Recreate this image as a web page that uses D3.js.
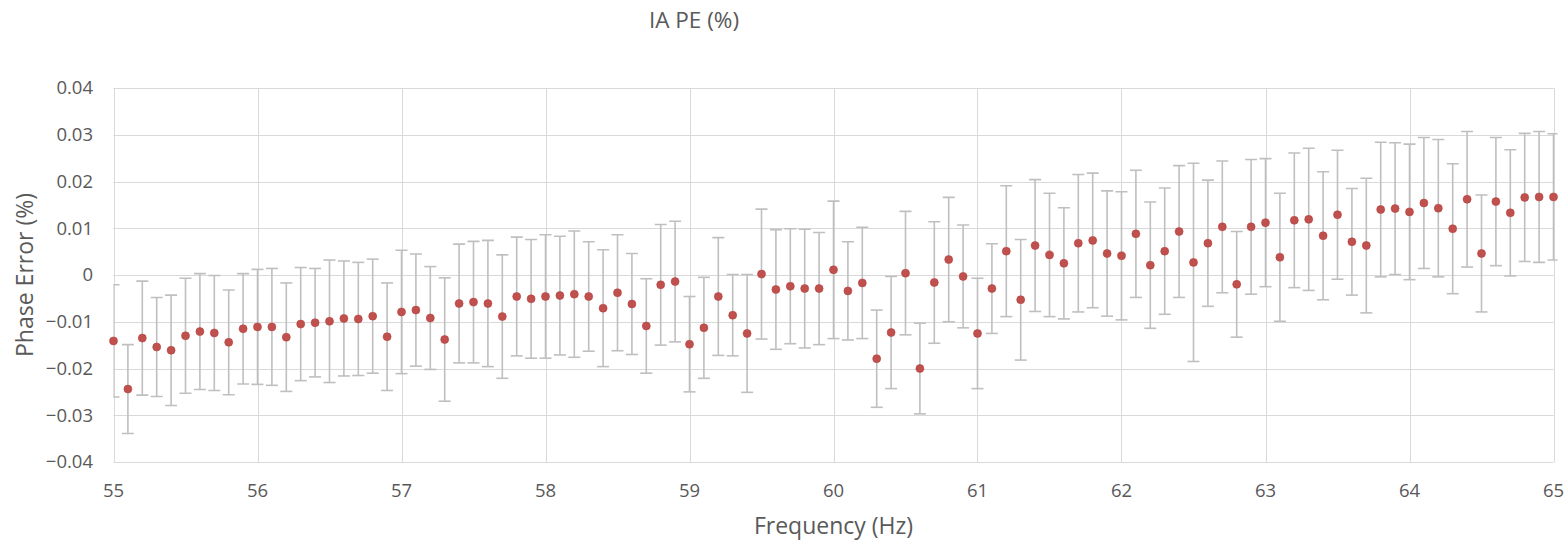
<!DOCTYPE html>
<html>
<head>
<meta charset="utf-8">
<script src="https://cdn.jsdelivr.net/npm/d3@7"></script>
<style>
  body { margin: 0; background: #fff; }
  svg { display: block; font-family: "Open Sans", sans-serif; }
  .grid line { stroke: #d9d9d9; stroke-width: 1; }
  .tick-label { fill: #595959; font-size: 18.5px; }
  .axis-title { fill: #595959; font-size: 23px; }
  .chart-title { fill: #595959; font-size: 22.5px; }
</style>
</head>
<body>
<div id="chart"></div>
<script>
// frequency steps (Hz)
var freq = [55.0,55.1,55.2,55.3,55.4,55.5,55.6,55.7,55.8,55.9,
  56.0,56.1,56.2,56.3,56.4,56.5,56.6,56.7,56.8,56.9,
  57.0,57.1,57.2,57.3,57.4,57.5,57.6,57.7,57.8,57.9,
  58.0,58.1,58.2,58.3,58.4,58.5,58.6,58.7,58.8,58.9,
  59.0,59.1,59.2,59.3,59.4,59.5,59.6,59.7,59.8,59.9,
  60.0,60.1,60.2,60.3,60.4,60.5,60.6,60.7,60.8,60.9,
  61.0,61.1,61.2,61.3,61.4,61.5,61.6,61.7,61.8,61.9,
  62.0,62.1,62.2,62.3,62.4,62.5,62.6,62.7,62.8,62.9,
  63.0,63.1,63.2,63.3,63.4,63.5,63.6,63.7,63.8,63.9,
  64.0,64.1,64.2,64.3,64.4,64.5,64.6,64.7,64.8,64.9,
  65.0];

// mean phase error (%)
var phaseErr = [-0.0141,-0.0244,-0.0135,-0.0154,-0.0161,-0.0130,-0.0121,-0.0124,-0.0144,-0.0115,
  -0.0111,-0.0111,-0.0133,-0.0105,-0.0102,-0.0099,-0.0093,-0.0094,-0.0088,-0.0132,
  -0.0079,-0.0075,-0.0092,-0.0138,-0.0061,-0.0058,-0.0061,-0.0089,-0.0046,-0.0051,
  -0.0046,-0.0044,-0.0041,-0.0046,-0.0071,-0.0038,-0.0062,-0.0109,-0.0021,-0.0014,
  -0.0148,-0.0113,-0.0046,-0.0086,-0.0125,0.0002,-0.0031,-0.0024,-0.0029,-0.0029,
  0.0011,-0.0034,-0.0017,-0.0179,-0.0123,0.0004,-0.0200,-0.0016,0.0033,-0.0003,
  -0.0125,-0.0029,0.0051,-0.0053,0.0063,0.0043,0.0025,0.0068,0.0074,0.0046,
  0.0041,0.0088,0.0021,0.0051,0.0093,0.0027,0.0068,0.0103,-0.0020,0.0103,
  0.0112,0.0038,0.0117,0.0119,0.0084,0.0129,0.0071,0.0063,0.0140,0.0142,
  0.0135,0.0154,0.0143,0.0099,0.0162,0.0046,0.0157,0.0133,0.0166,0.0167,
  0.0167];

// error bar half-width (%)
var errBar = [0.0120,0.0095,0.0122,0.0106,0.0118,0.0123,0.0124,0.0123,0.0112,0.0118,
  0.0123,0.0125,0.0116,0.0121,0.0116,0.0131,0.0123,0.0121,0.0122,0.0115,
  0.0132,0.0120,0.0110,0.0132,0.0127,0.0130,0.0135,0.0132,0.0127,0.0127,
  0.0132,0.0127,0.0135,0.0117,0.0125,0.0124,0.0108,0.0101,0.0129,0.0129,
  0.0102,0.0108,0.0126,0.0087,0.0126,0.0139,0.0128,0.0123,0.0127,0.0120,
  0.0147,0.0105,0.0119,0.0104,0.0120,0.0132,0.0097,0.0130,0.0133,0.0110,
  0.0118,0.0096,0.0140,0.0129,0.0141,0.0132,0.0119,0.0147,0.0144,0.0134,
  0.0137,0.0136,0.0135,0.0135,0.0141,0.0212,0.0135,0.0141,0.0113,0.0144,
  0.0137,0.0137,0.0144,0.0152,0.0137,0.0138,0.0114,0.0144,0.0144,0.0141,
  0.0145,0.0140,0.0147,0.0139,0.0145,0.0125,0.0137,0.0135,0.0137,0.0140,
  0.0135];

var xTicks = [55,56,57,58,59,60,61,62,63,64,65];
var yTicks = [-0.04,-0.03,-0.02,-0.01,0,0.01,0.02,0.03,0.04];

function drawChart(){
  var W = 1568, H = 543;
  var pLeft = 113.5, pRight = 1553.5, pTop = 88, pBottom = 462;

  var svg = d3.select('#chart').append('svg')
    .attr('width', W)
    .attr('height', H);

  var x = d3.scaleLinear().domain([55, 65]).range([pLeft, pRight]);
  var y = d3.scaleLinear().domain([-0.04, 0.04]).range([pBottom, pTop]);

  // grid
  var grid = svg.append('g').attr('class', 'grid');
  grid.selectAll('.hl').data(yTicks).enter().append('line')
    .attr('x1', pLeft).attr('x2', pRight)
    .attr('y1', function(d){ return Math.round(y(d)) + 0.5; })
    .attr('y2', function(d){ return Math.round(y(d)) + 0.5; });
  grid.selectAll('.vl').data(xTicks).enter().append('line')
    .attr('y1', pTop).attr('y2', pBottom + 0.5)
    .attr('x1', function(d){ return Math.round(x(d)) + 0.5; })
    .attr('x2', function(d){ return Math.round(x(d)) + 0.5; });

  // tick labels
  svg.append('g').selectAll('text').data(yTicks).enter().append('text')
    .attr('class', 'tick-label')
    .attr('x', 93)
    .attr('y', function(d){ return y(d); })
    .attr('dy', '0.35em')
    .attr('text-anchor', 'end')
    .text(function(d){ return d === 0 ? '0' : d3.format('.2f')(d); });

  svg.append('g').selectAll('text').data(xTicks).enter().append('text')
    .attr('class', 'tick-label')
    .attr('x', function(d){ return x(d); })
    .attr('y', 497)
    .attr('text-anchor', 'middle')
    .text(function(d){ return d; });

  // titles
  svg.append('text').attr('class', 'chart-title')
    .attr('x', 694).attr('y', 28)
    .attr('text-anchor', 'middle')
    .text('IA PE (%)');

  svg.append('text').attr('class', 'axis-title')
    .attr('x', (pLeft + pRight) / 2).attr('y', 534)
    .attr('text-anchor', 'middle')
    .text('Frequency (Hz)');

  svg.append('text').attr('class', 'axis-title')
    .attr('transform', 'translate(33,' + ((pTop + pBottom) / 2) + ') rotate(-90)')
    .attr('text-anchor', 'middle')
    .text('Phase Error (%)');

  // data
  var data = freq.map(function(f, i){
    return { f: f, v: phaseErr[i], e: errBar[i] };
  });

  svg.append('clipPath').attr('id', 'plotClip')
    .append('rect')
    .attr('x', pLeft).attr('y', pTop - 5)
    .attr('width', pRight - pLeft + 4).attr('height', pBottom - pTop + 10);

  var bars = svg.append('g')
    .attr('clip-path', 'url(#plotClip)')
    .attr('stroke', '#bfbfbf')
    .attr('stroke-width', 1.6);

  var capW = 6;
  var eb = bars.selectAll('.eb').data(data).enter().append('g');
  eb.append('line')
    .attr('x1', function(d){ return x(d.f); })
    .attr('x2', function(d){ return x(d.f); })
    .attr('y1', function(d){ return y(d.v + d.e); })
    .attr('y2', function(d){ return y(d.v - d.e); });
  eb.append('line')
    .attr('x1', function(d){ return x(d.f) - capW; })
    .attr('x2', function(d){ return x(d.f) + capW; })
    .attr('y1', function(d){ return y(d.v + d.e); })
    .attr('y2', function(d){ return y(d.v + d.e); });
  eb.append('line')
    .attr('x1', function(d){ return x(d.f) - capW; })
    .attr('x2', function(d){ return x(d.f) + capW; })
    .attr('y1', function(d){ return y(d.v - d.e); })
    .attr('y2', function(d){ return y(d.v - d.e); });

  svg.append('g').selectAll('circle').data(data).enter().append('circle')
    .attr('cx', function(d){ return x(d.f); })
    .attr('cy', function(d){ return y(d.v); })
    .attr('r', 4)
    .attr('fill', '#c0504d')
    .attr('stroke', '#b3433f')
    .attr('stroke-width', 0.6);
}

drawChart();
</script>
</body>
</html>
